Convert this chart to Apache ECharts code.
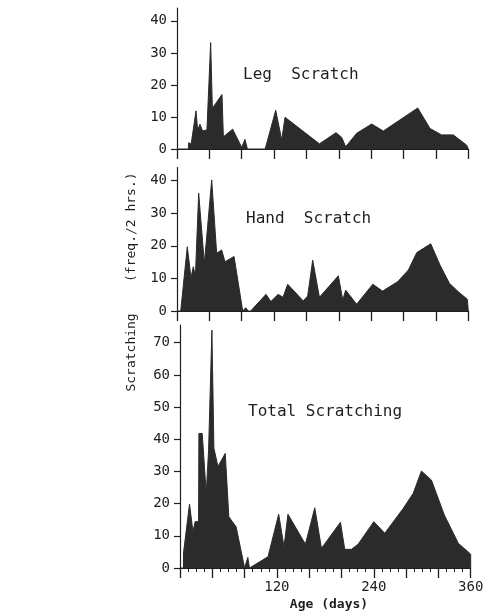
<!DOCTYPE html>
<html><head><meta charset="utf-8">
<script src="https://cdn.jsdelivr.net/npm/echarts@6/dist/echarts.min.js"></script>
<style>html,body{margin:0;padding:0;background:#fff}#c{width:493px;height:616px}</style>
</head><body><div id="c"></div>
<script>
// ---- data ----
const legDays   = [0, 14, 14.5, 17.5, 19, 23.5, 25.5, 28.4, 31.7, 37, 41.6, 43.7, 55.6, 57.3, 68.8, 80, 84, 87, 109, 122, 129.4, 133.5, 176, 196.5, 203.6, 208.5, 222, 240.6, 255, 297.5, 312.7, 327, 341.5, 358, 360];
const legValues = [0, 0, 2, 1.5, 1, 11.9, 5.9, 7.7, 5.6, 6, 33.2, 12.7, 17, 3.8, 6.2, 0.5, 3, 0, 0, 12.1, 2.8, 9.9, 1.6, 5.1, 3.6, 0.7, 4.9, 7.8, 5.6, 12.8, 6.4, 4.4, 4.4, 1.2, 0];

const handDays   = [0, 4.6, 12.7, 17.3, 20.2, 22.7, 26.8, 33.8, 42.9, 49, 55.2, 59.3, 70.5, 81.2, 85, 88, 91, 110, 116, 125, 131, 136.8, 156, 161.5, 167.7, 176, 199.4, 204.8, 208.5, 222, 242, 254, 272.8, 286, 296.3, 313.6, 325, 336.6, 347.7, 358.8, 360];
const handValues = [0, 0, 19.7, 10.2, 13.6, 10.5, 36.1, 14.6, 40.2, 17.7, 18.7, 15.1, 16.7, 0, 1, 0, 0, 5.1, 2.9, 5.1, 4.2, 8.2, 3.1, 4.6, 15.6, 4.2, 10.8, 3.4, 6.4, 2.1, 8.2, 6.1, 9, 12.6, 17.9, 20.6, 14.1, 8.5, 5.9, 3.6, 0];

const totalDays   = [0, 4.3, 4.3, 11.8, 16, 18.8, 23, 23.4, 27.5, 32.5, 35.4, 39.5, 42, 47, 56, 60.5, 69.5, 80, 84, 86, 109, 122.2, 128.8, 133.7, 155.3, 166.9, 175.2, 198.7, 204, 212.3, 220.6, 240, 253.6, 276.4, 288.8, 299, 311.4, 327.3, 344.6, 360, 360];
const totalValues = [0, 0, 4.6, 19.9, 11.3, 14.4, 14.4, 41.8, 41.8, 23.2, 36.6, 73.9, 37.2, 31.5, 35.6, 15.9, 12.8, 0, 3.3, 0, 3.5, 16.7, 6.6, 16.7, 7.4, 18.7, 6.1, 14.2, 5.8, 5.8, 7.4, 14.4, 10.8, 18.5, 23.2, 30.1, 27.3, 16.5, 7.7, 4.3, 0];

const panelTitles = ['Leg  Scratch', 'Hand  Scratch', 'Total Scratching'];
const yTicksSmall = [0, 10, 20, 30, 40];
const yTicksTotal = [0, 10, 20, 30, 40, 50, 60, 70];
const xLabelValues = [120, 240, 360];
const yTitle = 'Scratching    (freq./2 hrs.)';
const xTitle = 'Age (days)';

// ---- chart ----
const INK = '#1e1e1e', FILL = '#2b2b2b';
const MONO = '"DejaVu Sans Mono", monospace';
const pairs = (xs, ys) => xs.map((x, i) => [x, ys[i]]);

function xAx(gi, showLabels) {
  return {
    type: 'value', gridIndex: gi, min: 0, max: 360, interval: 40,
    axisLine: { show: true, lineStyle: { color: INK, width: 1 } },
    axisTick: { show: true, length: 10, lineStyle: { color: INK, width: 1.3 } },
    minorTick: { show: showLabels, splitNumber: 4, length: 4, lineStyle: { color: INK, width: 1 } },
    splitLine: { show: false },
    axisLabel: {
      show: showLabels, margin: 12, color: INK, fontFamily: MONO, fontSize: 14,
      formatter: v => (xLabelValues.indexOf(v) >= 0 ? String(v) : '')
    }
  };
}
function yAx(gi, max, ticks) {
  return {
    type: 'value', gridIndex: gi, min: 0, max: max, interval: 10,
    axisLine: { show: true, lineStyle: { color: INK, width: 1.2 } },
    axisTick: { show: true, length: 6, customValues: ticks, lineStyle: { color: INK, width: 1.2 } },
    splitLine: { show: false },
    axisLabel: { margin: 10, color: INK, fontFamily: MONO, fontSize: 14, customValues: ticks }
  };
}
function areaSeries(idx, data) {
  return {
    type: 'line', xAxisIndex: idx, yAxisIndex: idx, data: data,
    symbol: 'none', animation: false, smooth: false,
    lineStyle: { color: FILL, width: 1 },
    areaStyle: { color: FILL, opacity: 1 }
  };
}

const chart = echarts.init(document.getElementById('c'), null, { renderer: 'canvas' });
chart.setOption({
  backgroundColor: '#ffffff',
  animation: false,
  grid: [
    { left: 177, top: 8, width: 291.3, height: 141 },
    { left: 177, top: 167.5, width: 291.3, height: 143.5 },
    { left: 180, top: 325, width: 290.7, height: 243 }
  ],
  xAxis: [xAx(0, false), xAx(1, false), xAx(2, true)],
  yAxis: [yAx(0, 44, yTicksSmall), yAx(1, 44, yTicksSmall), yAx(2, 75.5, yTicksTotal)],
  series: [
    areaSeries(0, pairs(legDays, legValues)),
    areaSeries(1, pairs(handDays, handValues)),
    areaSeries(2, pairs(totalDays, totalValues))
  ],
  graphic: [
    { type: 'text', x: 243, y: 75, style: { text: panelTitles[0], font: '16px ' + MONO, fill: INK, textAlign: 'left', textVerticalAlign: 'middle' } },
    { type: 'text', x: 246, y: 219, style: { text: panelTitles[1], font: '16px ' + MONO, fill: INK, textAlign: 'left', textVerticalAlign: 'middle' } },
    { type: 'text', x: 248, y: 412, style: { text: panelTitles[2], font: '16px ' + MONO, fill: INK, textAlign: 'left', textVerticalAlign: 'middle' } },
    { type: 'text', x: 132, y: 282, rotation: Math.PI / 2, style: { text: yTitle, font: '13px ' + MONO, fill: INK, textAlign: 'center', textVerticalAlign: 'middle' } },
    { type: 'text', x: 329, y: 605, style: { text: xTitle, font: 'bold 13px ' + MONO, fill: INK, textAlign: 'center', textVerticalAlign: 'middle' } }
  ]
});
</script></body></html>
